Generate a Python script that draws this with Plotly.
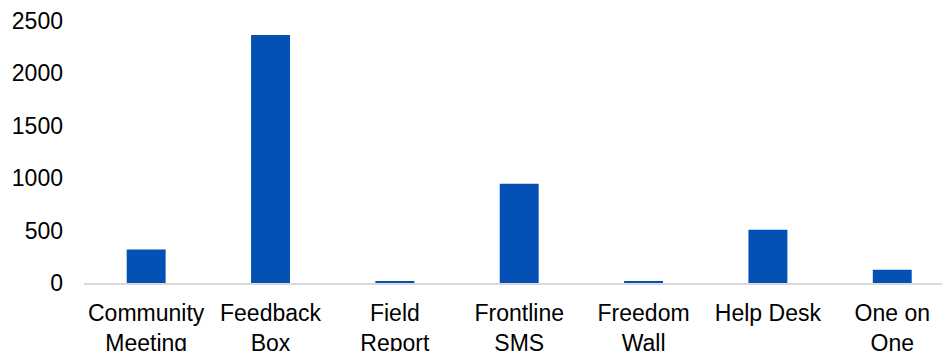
import plotly.graph_objects as go

categories = ["Community<br>Meeting", "Feedback<br>Box", "Field<br>Report", "Frontline<br>SMS",
              "Freedom<br>Wall", "Help Desk", "One on<br>One"]
values = [320, 2366, 19, 947, 11, 509, 127]
y_ticks = [0, 500, 1000, 1500, 2000, 2500]

fig = go.Figure(go.Bar(x=list(range(len(categories))), y=values,
                       marker=dict(color="#0450B4", line=dict(width=0)), width=0.313))

font = dict(family="Liberation Sans, Arial, sans-serif", size=23, color="#000000")
fig.update_layout(
    width=942, height=351,
    margin=dict(l=84, r=0, t=21, b=68, autoexpand=False),
    paper_bgcolor="white", plot_bgcolor="white",
    showlegend=False, font=font,
    xaxis=dict(range=[-0.5, 6.4], tickmode="array", tickvals=list(range(len(categories))),
               ticktext=categories, showgrid=False, zeroline=False, showline=True,
               linecolor="#D9D9D9", linewidth=2, ticks="", automargin=False,
               ticklabelstandoff=8, tickfont=font),
    yaxis=dict(range=[0, 2500], tickmode="array", tickvals=y_ticks,
               ticktext=[str(v) for v in y_ticks], showgrid=False, zeroline=False,
               showline=False, ticks="", automargin=False, ticklabelstandoff=20,
               tickfont=font),
)
fig.write_html("out.html")
